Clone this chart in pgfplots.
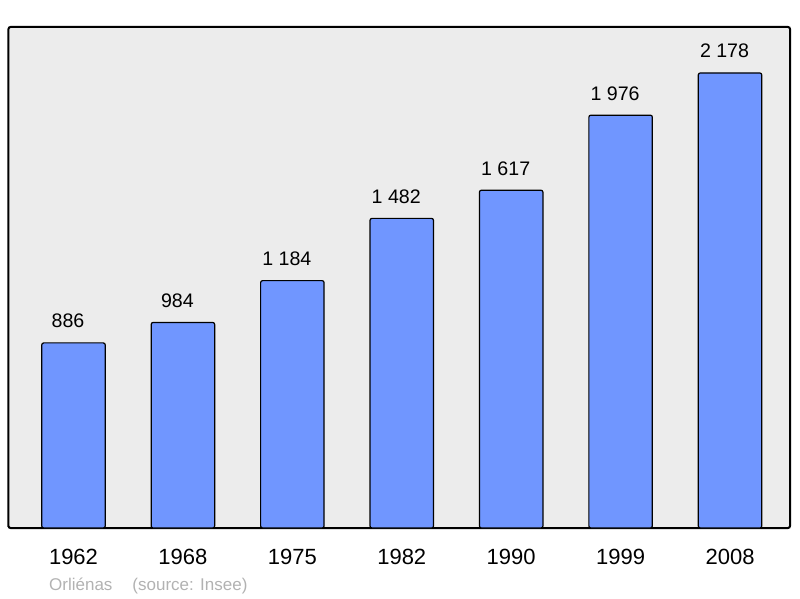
\documentclass[border=0pt]{standalone}
\usepackage{pgfplots}
\pgfplotsset{compat=1.18}
\usepackage{fontspec}
\setmainfont{Liberation Sans}
\definecolor{barblue}{RGB}{112,150,255}
\definecolor{bg}{RGB}{236,236,236}
\definecolor{src}{RGB}{178,178,178}
\begin{document}
\begin{tikzpicture}[x=1pt,y=1pt]
\useasboundingbox (0,0) rectangle (800,598);
\begin{axis}[
  at={(8.5pt,70pt)}, anchor=south west,
  scale only axis, width=781.5pt, height=501pt,
  xmin=-0.594, xmax=6.548, ymin=0, ymax=2398,
  axis background/.style={fill=bg},
  axis line style={line width=2pt, rounded corners=2pt},
  ybar, bar width=0.58,
  xtick={0,1,2,3,4,5,6},
  xticklabels={1962,1968,1975,1982,1990,1999,2008},
  ytick=\empty,
  major tick length=0pt,
  xtick style={draw=none},
  xticklabel style={font=\fontsize{22}{26}\selectfont, anchor=base, yshift=-36pt},
  nodes near coords,
  every node near coord/.append style={font=\fontsize{19.6}{23}\selectfont, anchor=base, yshift=15pt, xshift=-5.5pt},
  /pgf/number format/1000 sep={\ },
  /pgf/number format/assume math mode=true,
  clip=false,
]
\addplot[fill=barblue, draw=black, line width=1.2pt, rounded corners=2pt] coordinates {(0,886) (1,984) (2,1184) (3,1482) (4,1617) (5,1976) (6,2178)};
\end{axis}
\node[anchor=base west, text=src, font=\fontsize{17}{20}\selectfont, inner sep=0pt] at (49,8) {Orliénas\hspace{20pt}(source: Insee)};
\end{tikzpicture}
\end{document}
